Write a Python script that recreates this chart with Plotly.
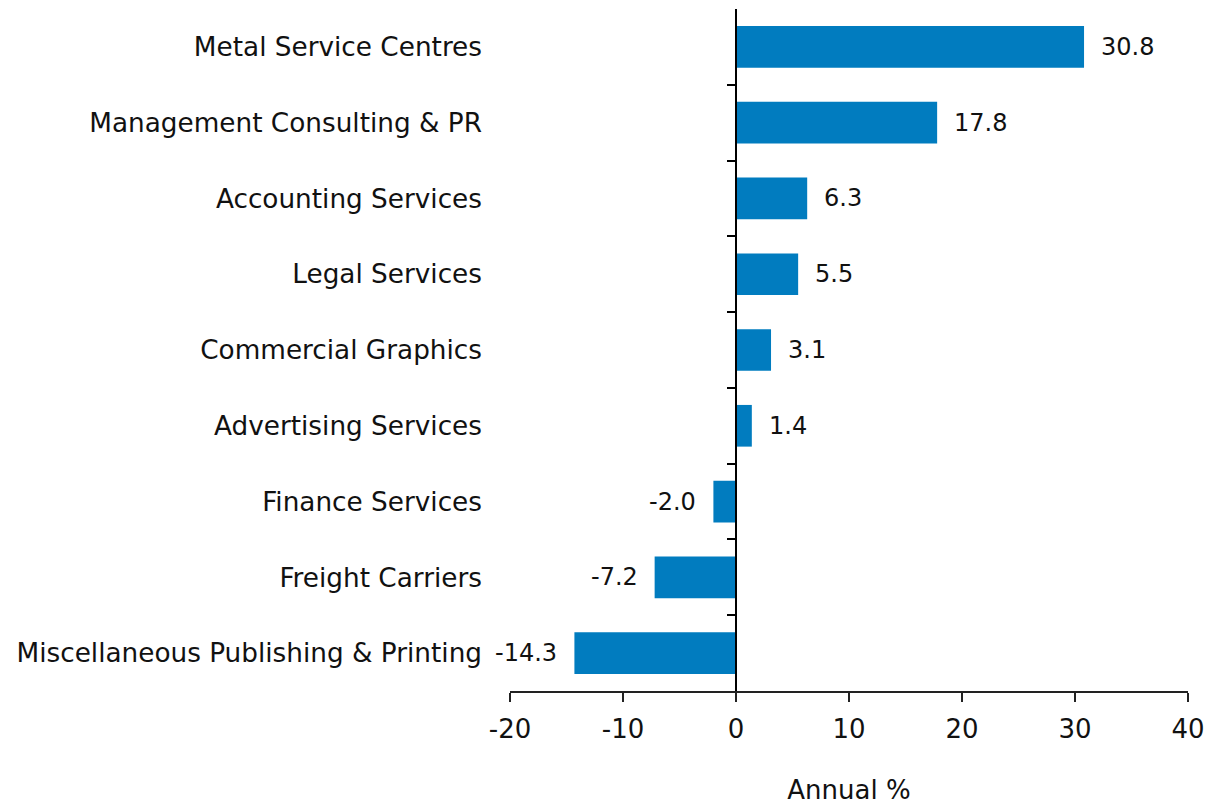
import plotly.graph_objects as go

categories = [
    "Metal Service Centres",
    "Management Consulting & PR",
    "Accounting Services",
    "Legal Services",
    "Commercial Graphics",
    "Advertising Services",
    "Finance Services",
    "Freight Carriers",
    "Miscellaneous Publishing & Printing",
]
values = [30.8, 17.8, 6.3, 5.5, 3.1, 1.4, -2.0, -7.2, -14.3]
x_ticks = [-20, -10, 0, 10, 20, 30, 40]

BAR = "#017CBF"
FONT = "DejaVu Sans, Verdana, sans-serif"

fig = go.Figure()
fig.add_trace(go.Bar(
    y=categories, x=values, orientation="h",
    marker=dict(color=BAR, line=dict(width=0)),
    width=0.55, showlegend=False, hoverinfo="x+y",
))
# invisible trace to hold the zero-line axis with boundary ticks
fig.add_trace(go.Scatter(
    y=categories, x=[0] * len(categories), yaxis="y2",
    mode="markers", marker=dict(opacity=0), showlegend=False, hoverinfo="skip",
))

for c, v in zip(categories, values):
    fig.add_annotation(
        x=v, y=c, xref="x", yref="y",
        text=f"{v:.1f}", showarrow=False,
        xanchor="left" if v >= 0 else "right",
        xshift=15 if v >= 0 else -15,
        font=dict(family=FONT, size=24, color="#111"),
    )

fig.update_layout(
    template="none",
    width=1214, height=797,
    margin=dict(l=502, r=34, t=1, b=114),
    paper_bgcolor="white", plot_bgcolor="white",
    font=dict(family=FONT, size=26, color="#111"),
    bargap=0.45,
    xaxis=dict(
        range=[-20, 40], tickvals=x_ticks, ticktext=[str(t) for t in x_ticks],
        showgrid=False, zeroline=False,
        showline=True, linecolor="#222", linewidth=2,
        ticks="outside", ticklen=9, tickwidth=2, tickcolor="#222",
        ticklabelstandoff=5,
        tickfont=dict(size=26),
        title=dict(text="Annual %", standoff=42, font=dict(size=26)),
        automargin=False,
    ),
    yaxis=dict(
        type="category", categoryorder="array", categoryarray=categories,
        autorange="reversed",
        showgrid=False, zeroline=False, showline=False,
        ticks="", ticklabelstandoff=27,
        tickfont=dict(size=26.3),
        automargin=False,
    ),
    yaxis2=dict(
        type="category", categoryorder="array", categoryarray=categories,
        autorange="reversed",
        overlaying="y", anchor="free", position=1/3, side="left",
        showgrid=False, zeroline=False,
        showline=True, linecolor="#000", linewidth=2,
        ticks="outside", tickson="boundaries", ticklen=8, tickwidth=2, tickcolor="#000",
        showticklabels=False,
        automargin=False,
    ),
)

fig.write_html("out.html")
